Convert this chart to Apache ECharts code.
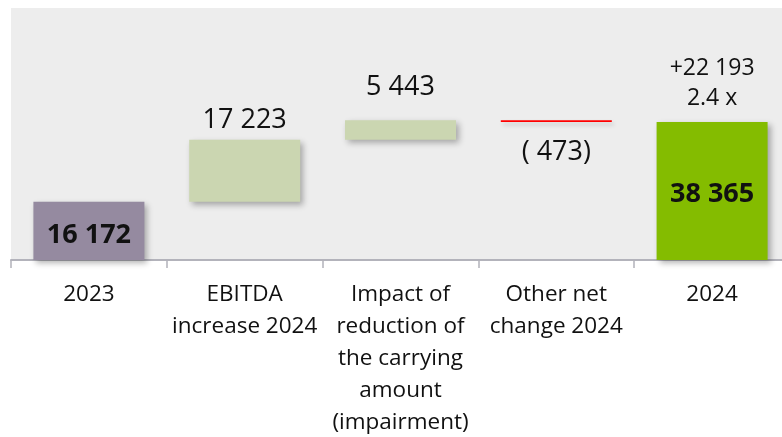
<!DOCTYPE html>
<html>
<head>
<meta charset="utf-8">
<script src="https://cdn.jsdelivr.net/npm/echarts@6/dist/echarts.min.js"></script>
<style>
html,body{margin:0;padding:0;background:#fff;}
#c{width:782px;height:437px;}
</style>
</head>
<body>
<div id="c"></div>
<script>
var categories = ["2023", "EBITDA\nincrease 2024", "Impact of\nreduction of\nthe carrying\namount\n(impairment)", "Other net\nchange 2024", "2024"];
var changes = [16172, 17223, 5443, -473, 38365];
var isTotal = [true, false, false, false, true];
var valueLabels = ["16 172", "17 223", "5 443", "( 473)", "38 365"];
var totalNote = ["+22 193", "2.4 x"];
var barColors = ["#958aa0", "#cbd6b1", "#cbd6b1", "#ff0000", "#84bc00"];

// waterfall base / visible amounts
var base = [], shown = [];
var running = 0;
for (var i = 0; i < changes.length; i++) {
  if (isTotal[i]) {
    base.push(0);
    shown.push(changes[i]);
    running = changes[i];
  } else if (changes[i] >= 0) {
    base.push(running);
    shown.push(changes[i]);
    running += changes[i];
  } else {
    running += changes[i];
    base.push(running);
    shown.push(-changes[i]);
  }
}

var labelCfg = [
  {show:true, position:'inside', offset:[0,4], formatter: valueLabels[0], fontSize:27, fontWeight:'bold', color:'#111'},
  {show:true, position:'top', distance:4, formatter: valueLabels[1], fontSize:27, color:'#111'},
  {show:true, position:'top', distance:18, formatter: valueLabels[2], fontSize:27, color:'#111'},
  {show:true, position:'bottom', distance:15, formatter: valueLabels[3], fontSize:27, color:'#111'},
  {show:true, position:'inside', offset:[0,3], formatter: valueLabels[4], fontSize:27, fontWeight:'bold', color:'#111'}
];

var visData = shown.map(function(v, i){
  var shadow = (i === 3) ? {shadowBlur:4, shadowColor:'rgba(0,0,0,0.2)', shadowOffsetX:2, shadowOffsetY:3}
                         : {shadowBlur:6, shadowColor:'rgba(0,0,0,0.3)', shadowOffsetX:3, shadowOffsetY:3};
  return {
    value: v,
    itemStyle: Object.assign({color: barColors[i]}, shadow),
    label: Object.assign({fontFamily:'Open Sans', lineHeight:30}, labelCfg[i])
  };
});

var noteData = shown.map(function(v, i){ return i === 4 ? 0 : '-'; });

var chart = echarts.init(document.getElementById('c'), null, {renderer:'canvas'});
chart.setOption({
  animation: false,
  backgroundColor: '#ffffff',
  grid: {left: 11, top: 8, width: 779, height: 252, show: true, backgroundColor: '#ededed', borderWidth: 0, containLabel: false, outerBoundsMode: 'none'},
  xAxis: {
    type: 'category',
    data: categories,
    axisLine: {show: true, lineStyle: {color: '#b3b3bb', width: 2}},
    axisTick: {show: true, length: 8, lineStyle: {color: '#b3b3bb', width: 1.5}},
    axisLabel: {interval: 0, margin: 19, fontFamily: 'Open Sans', fontSize: 22.5, lineHeight: 32, color: '#111'}
  },
  yAxis: {type: 'value', min: 0, max: 70000, show: false, splitLine: {show: false}},
  series: [
    {
      type: 'bar', stack: 'w', barWidth: 111,
      itemStyle: {color: 'transparent'},
      emphasis: {disabled: true},
      data: base
    },
    {
      type: 'bar', stack: 'w', barWidth: 111,
      emphasis: {disabled: true},
      data: visData
    },
    {
      type: 'bar', stack: 'w', barWidth: 111,
      itemStyle: {color: 'transparent'},
      emphasis: {disabled: true},
      label: {
        show: true, position: 'top', distance: 8,
        formatter: function(p){ return p.dataIndex === 4 ? totalNote.join('\n') : ''; },
        fontFamily: 'Open Sans', fontSize: 23, lineHeight: 30, color: '#111'
      },
      data: noteData
    }
  ]
});
</script>
</body>
</html>
